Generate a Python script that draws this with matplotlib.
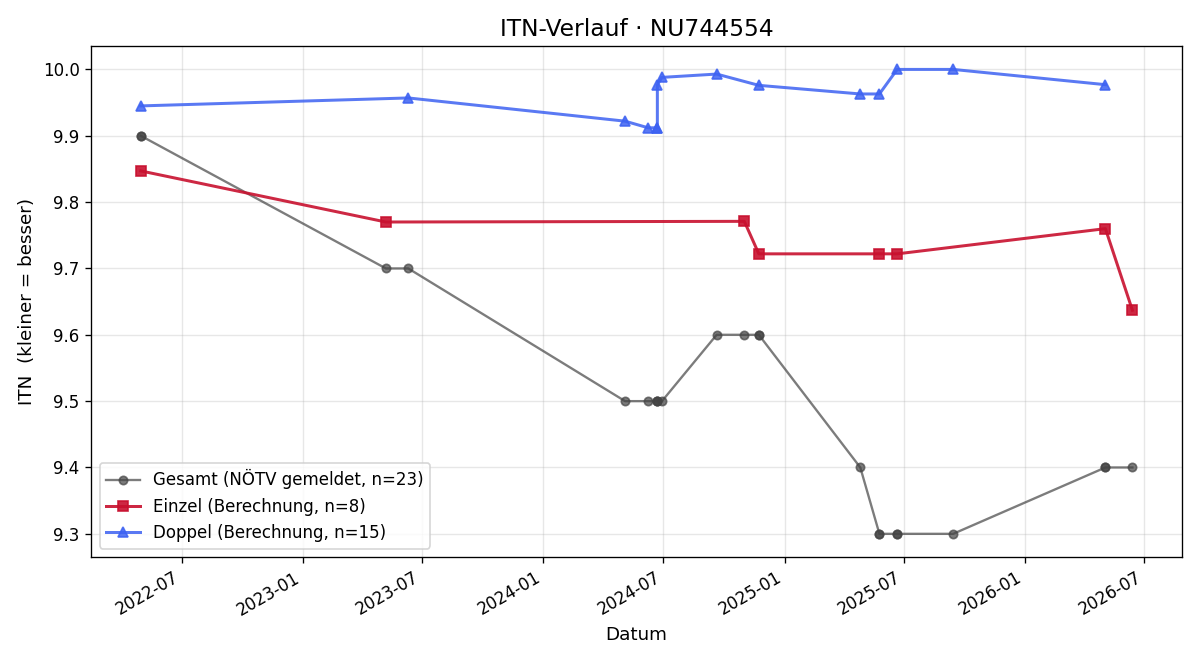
import matplotlib
matplotlib.use("Agg")
import matplotlib.pyplot as plt
import matplotlib.dates as mdates
import pandas as pd

gesamt_dates = ["2022-04-30", "2022-04-30", "2023-05-07", "2023-06-10", "2024-05-04",
                "2024-06-08", "2024-06-21", "2024-06-22", "2024-06-22", "2024-06-29",
                "2024-09-20", "2024-11-01", "2024-11-23", "2024-11-23", "2025-04-26",
                "2025-05-25", "2025-05-25", "2025-06-21", "2025-06-21", "2025-09-14",
                "2026-05-03", "2026-05-03", "2026-06-13"]
gesamt_vals = [9.9, 9.9, 9.7, 9.7, 9.5,
               9.5, 9.5, 9.5, 9.5, 9.5,
               9.6, 9.6, 9.6, 9.6, 9.4,
               9.3, 9.3, 9.3, 9.3, 9.3,
               9.4, 9.4, 9.4]

einzel_dates = ["2022-04-30", "2023-05-07", "2024-11-01", "2024-11-23",
                "2025-05-25", "2025-06-21", "2026-05-03", "2026-06-13"]
einzel_vals = [9.847, 9.770, 9.771, 9.722, 9.722, 9.722, 9.760, 9.637]

doppel_dates = ["2022-04-30", "2023-06-10", "2024-05-04", "2024-06-08", "2024-06-21",
                "2024-06-22", "2024-06-22", "2024-06-29", "2024-09-20", "2024-11-23",
                "2025-04-26", "2025-05-25", "2025-06-21", "2025-09-14", "2026-05-03"]
doppel_vals = [9.945, 9.957, 9.922, 9.912, 9.912,
               9.912, 9.977, 9.988, 9.993, 9.976,
               9.963, 9.963, 10.0, 10.0, 9.977]

fig, ax = plt.subplots(figsize=(10, 5.5), dpi=120)

ax.plot(pd.to_datetime(gesamt_dates), gesamt_vals, marker="o", color="#444444", alpha=0.7,
        linewidth=1.4, markersize=5, label="Gesamt (NÖTV gemeldet, n=23)")
ax.plot(pd.to_datetime(einzel_dates), einzel_vals, marker="s", color="#C8102E", alpha=0.9,
        linewidth=1.8, markersize=6, label="Einzel (Berechnung, n=8)")
ax.plot(pd.to_datetime(doppel_dates), doppel_vals, marker="^", color="#3D62F2", alpha=0.85,
        linewidth=1.8, markersize=6, label="Doppel (Berechnung, n=15)")

ax.set_title("ITN-Verlauf · NU744554", fontsize=14)
ax.set_xlabel("Datum", fontsize=11)
ax.set_ylabel("ITN  (kleiner = besser)", fontsize=11)
ax.grid(True, alpha=0.3)
ax.xaxis.set_major_locator(mdates.MonthLocator(bymonth=[1, 7]))
ax.xaxis.set_major_formatter(mdates.DateFormatter("%Y-%m"))
ax.tick_params(labelsize=10)
ax.legend(loc="lower left", fontsize=10)
fig.autofmt_xdate()
fig.subplots_adjust(left=0.076, right=0.985, top=0.93, bottom=0.156)
fig.savefig("out.png")
